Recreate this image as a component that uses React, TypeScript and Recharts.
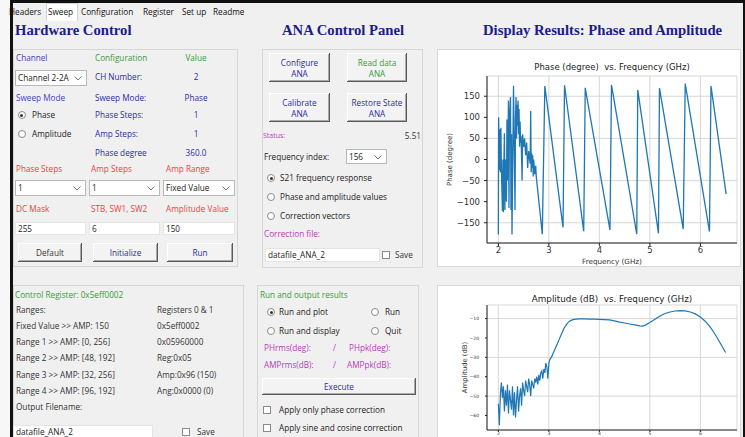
import React from 'react';
import { LineChart, Line, XAxis, YAxis, CartesianGrid } from 'recharts';

// phase sweep
const phaseFreq = [
  2.0, 2.005, 2.02, 2.03, 2.04, 2.05, 2.06, 2.08, 2.09, 2.1, 2.11, 2.12, 2.13, 2.14, 2.16, 2.17, 2.18,
  2.2, 2.21, 2.22, 2.24, 2.25, 2.26, 2.27, 2.3, 2.33, 2.34, 2.35, 2.36, 2.37, 2.38, 2.39, 2.4, 2.41,
  2.42, 2.43, 2.44, 2.45, 2.47, 2.48, 2.5, 2.52, 2.54, 2.56, 2.58, 2.6, 2.63, 2.64, 2.65, 2.66, 2.67,
  2.68, 2.69, 2.7, 2.72, 2.74, 2.75, 2.87, 2.92, 3.28, 3.31, 3.69, 3.72, 4.21, 4.24, 4.74, 4.76,
  5.17, 5.19, 5.66, 5.7, 6.18, 6.21, 6.51,
];
const phaseDeg = [
  -178, 100, -25, 72, -30, 75, -20, -122, 0, -125, -5, 62, -120, 0, -100, 95, -50,
  140, -115, 100, 148, -120, 60, -178, 175, -120, 100, 148, 50, 130, 80, 140, 60, 120,
  30, 90, 40, 55, -50, 60, 30, 50, 10, 40, -20, 20, -10, 115, -30, 15, -20,
  10, -40, 0, -35, -15, -40, -177, 174, -161, 176, -170, 170, -167, 177, -177, 165,
  -175, 169, -165, 180, -171, 174, -82,
];

// amplitude sweep
const ampFreq = [
  2.0, 2.02, 2.04, 2.06, 2.08, 2.1, 2.12, 2.14, 2.16, 2.18, 2.2, 2.22, 2.24, 2.26, 2.28, 2.3, 2.32,
  2.34, 2.36, 2.38, 2.4, 2.42, 2.44, 2.46, 2.48, 2.5, 2.52, 2.54, 2.56, 2.58, 2.6, 2.62, 2.64, 2.66,
  2.68, 2.7, 2.72, 2.74, 2.76, 2.78, 2.8, 2.82, 2.84, 2.86, 2.88, 2.9, 2.92, 2.94, 2.96, 2.98, 3.0,
  3.02, 3.05, 3.1, 3.15, 3.2, 3.25, 3.3, 3.35, 3.4, 3.45, 3.5, 3.6, 3.7, 3.8, 3.9, 4.0, 4.1, 4.2,
  4.3, 4.4, 4.5, 4.6, 4.7, 4.8, 4.85, 4.9, 5.0, 5.1, 5.2, 5.3, 5.4, 5.5, 5.6, 5.7, 5.8, 5.9, 6.0,
  6.1, 6.2, 6.3, 6.4, 6.5,
];
const ampDb = [
  -54, -65, -49, -43, -51, -45, -58, -47, -55, -44, -59, -47, -52, -57, -45, -60, -48,
  -61, -52, -45, -58, -50, -46, -55, -43, -47, -50, -42, -45, -48, -41, -44, -50, -42,
  -44, -46, -41, -43, -40, -44, -39, -42, -38, -37, -41, -36, -38, -33, -35, -41, -33,
  -31, -30, -27, -24, -21, -18, -15, -13, -11.5, -10.8, -10.4, -10.2, -10.2, -10.3, -10.3, -10.4, -10.5, -10.7,
  -11.2, -11.8, -12.3, -12.8, -13.3, -13.8, -13.9, -13.5, -12, -10.3, -8.7, -7.4, -6.6, -6.1, -5.9, -6, -6.6, -7.6, -9.2,
  -11.5, -14.6, -18.5, -23, -27.5,
];

const freqTicks = [2, 3, 4, 5, 6];
const phaseTicks = [-150, -100, -50, 0, 50, 100, 150];
const ampTicks = [-60, -50, -40, -30, -20, -10];

const phaseRows = phaseFreq.map((f, i) => ({ f, v: phaseDeg[i] }));
const ampRows = ampFreq.map((f, i) => ({ f, v: ampDb[i] }));

const UI = '"Open Sans", "Noto Sans", sans-serif';
const MPL = '"DejaVu Sans", sans-serif';
const SERIF = '"Liberation Serif", "DejaVu Serif", serif';
const BLUE = '#4343b8';
const NAVY = '#2c2ca0';
const GREEN = '#3a9a3a';
const RED = '#f23e3e';
const MAG = '#b83cb8';
const LINE = '#1f77b4';
const minus = (v: number) => String(v).replace('-', '\u2212');

type TP = { x: number; y: number; c?: string; w?: number; align?: 'left' | 'center' | 'right'; size?: number; children?: React.ReactNode };
function T({ x, y, c = '#333', w, align = 'left', size = 8.2, children }: TP) {
  return (
    <div style={{ position: 'absolute', left: x, top: y - 6, width: w, height: 12, lineHeight: '12px', fontSize: size, color: c, textAlign: align, whiteSpace: 'nowrap', fontFamily: UI }}>
      {children}
    </div>
  );
}

function Box({ x, y, w, h, bg }: { x: number; y: number; w: number; h: number; bg?: string }) {
  return <div style={{ position: 'absolute', left: x, top: y, width: w, height: h, border: '1px solid #d6d6d6', background: bg, boxSizing: 'border-box' }} />;
}

function Entry({ x, y, w, h, text }: { x: number; y: number; w: number; h: number; text: string }) {
  return (
    <div style={{ position: 'absolute', left: x, top: y, width: w, height: h, background: '#fff', border: '1px solid #e4e4e4', boxSizing: 'border-box', fontSize: 8.2, lineHeight: `${h - 2}px`, paddingLeft: 2, fontFamily: UI, color: '#222', whiteSpace: 'nowrap' }}>
      {text}
    </div>
  );
}

function Combo({ x, y, w, h, text }: { x: number; y: number; w: number; h: number; text: string }) {
  return (
    <div style={{ position: 'absolute', left: x, top: y, width: w, height: h, background: '#fff', border: '1px solid #b8b8b8', boxSizing: 'border-box', fontSize: 8.2, lineHeight: `${h - 2}px`, paddingLeft: 2, fontFamily: UI, color: '#222', whiteSpace: 'nowrap' }}>
      {text}
      <svg width={8} height={5} style={{ position: 'absolute', right: 4, top: (h - 2) / 2 - 2 }}>
        <polyline points="0.5,0.5 4,4 7.5,0.5" fill="none" stroke="#777" strokeWidth={1} />
      </svg>
    </div>
  );
}

function Btn({ x, y, w, h, c = '#333', lines }: { x: number; y: number; w: number; h: number; c?: string; lines: string[] }) {
  return (
    <div style={{
      position: 'absolute', left: x, top: y, width: w, height: h, background: '#f3f3f3', boxSizing: 'border-box',
      boxShadow: 'inset -1px -1px 0 #5a5a5a, inset 1px 1px 0 #fff, inset -2px -2px 0 #a8a8a8',
      display: 'flex', flexDirection: 'column', justifyContent: 'center', alignItems: 'center',
      fontSize: 8.2, lineHeight: '11px', color: c, fontFamily: UI,
    }}>
      {lines.map(l => <div key={l}>{l}</div>)}
    </div>
  );
}

function Radio({ x, y, on }: { x: number; y: number; on?: boolean }) {
  return (
    <div style={{ position: 'absolute', left: x - 4, top: y - 4, width: 8, height: 8, borderRadius: '50%', border: '1px solid #8a8a8a', background: '#fff', boxSizing: 'border-box' }}>
      {on && <div style={{ position: 'absolute', left: 1.5, top: 1.5, width: 3, height: 3, borderRadius: '50%', background: '#333' }} />}
    </div>
  );
}

function Check({ x, y }: { x: number; y: number }) {
  return <div style={{ position: 'absolute', left: x - 4, top: y - 4, width: 8, height: 8, border: '1px solid #8a8a8a', background: '#fff', boxSizing: 'border-box' }} />;
}

function PhaseChart() {
  return (
    <LineChart width={304} height={218} data={phaseRows} margin={{ top: 26, right: 5, left: 0, bottom: 0 }}>
      <CartesianGrid stroke="#d2d2d2" strokeWidth={0.9} />
      <XAxis dataKey="f" type="number" domain={[1.775, 6.725]} ticks={freqTicks} allowDataOverflow height={25}
        tick={{ fontSize: 8.5, fill: '#333', fontFamily: MPL }} tickSize={3} tickMargin={1} stroke="#222"
        label={{ value: 'Frequency (GHz)', position: 'insideBottom', offset: 4, fontSize: 7.2, fill: '#333', fontFamily: MPL }} />
      <YAxis type="number" domain={[-198, 198]} ticks={phaseTicks} allowDataOverflow width={49} tickFormatter={minus}
        tick={{ fontSize: 8.5, fill: '#333', fontFamily: MPL }} tickSize={3} tickMargin={4} stroke="#222"
        label={{ value: 'Phase (degree)', angle: -90, position: 'insideLeft', offset: 12, fontSize: 7, fill: '#333', fontFamily: MPL, style: { textAnchor: 'middle' } }} />
      <XAxis xAxisId="top" orientation="top" type="number" domain={[1.775, 6.725]} height={0} tick={false} tickLine={false} stroke="#222" />
      <YAxis yAxisId="right" orientation="right" type="number" domain={[-198, 198]} width={0} tick={false} tickLine={false} stroke="#222" />
      <Line type="linear" dataKey="v" stroke={LINE} strokeWidth={1.3} dot={false} isAnimationActive={false} />
    </LineChart>
  );
}

function AmpChart() {
  return (
    <LineChart width={304} height={170} data={ampRows} margin={{ top: 19, right: 5, left: 0, bottom: 0 }}>
      <CartesianGrid stroke="#d2d2d2" strokeWidth={0.9} />
      <XAxis dataKey="f" type="number" domain={[1.775, 6.725]} ticks={freqTicks} allowDataOverflow height={26}
        tick={{ fontSize: 4.5, fill: '#333', fontFamily: MPL }} tickSize={2} tickMargin={0} stroke="#222" />
      <YAxis type="number" domain={[-67.5, -3]} ticks={ampTicks} allowDataOverflow width={49} tickFormatter={minus}
        tick={{ fontSize: 4.5, fill: '#333', fontFamily: MPL }} tickSize={2} tickMargin={6} stroke="#222"
        label={{ value: 'Amplitude (dB)', angle: -90, position: 'insideLeft', offset: 27, fontSize: 6.8, fill: '#333', fontFamily: MPL, style: { textAnchor: 'middle' } }} />
      <XAxis xAxisId="top" orientation="top" type="number" domain={[1.775, 6.725]} height={0} tick={false} tickLine={false} stroke="#222" />
      <YAxis yAxisId="right" orientation="right" type="number" domain={[-67.5, -3]} width={0} tick={false} tickLine={false} stroke="#222" />
      <Line type="linear" dataKey="v" stroke={LINE} strokeWidth={1.2} dot={false} isAnimationActive={false} />
    </LineChart>
  );
}

export default function App() {
  const head = { position: 'absolute' as const, top: 22, fontFamily: SERIF, fontWeight: 700, fontSize: 14.7, color: '#1c1c8a', whiteSpace: 'nowrap' as const };
  return (
    <div style={{ position: 'absolute', left: 0, top: 0, width: 745, height: 437, overflow: 'hidden', background: '#f0f0f0', fontFamily: UI }}>
      <div style={{ position: 'absolute', left: 0, top: 0, width: 10, height: 437, background: '#f7f7f7' }} />

      {/* tab row */}
      <div style={{ position: 'absolute', left: 46, top: 3, width: 32, height: 18, background: '#fff', border: '1px solid #d4d4d4', borderBottom: 'none', boxSizing: 'border-box' }} />
      {[['Headers', 9], ['Sweep', 48], ['Configuration', 81], ['Register', 143], ['Set up', 182], ['Readme', 213]].map(([t, x]) => (
        <T key={t as string} x={x as number} y={12} c="#111">{t}</T>
      ))}
      <div style={{ position: 'absolute', left: 10, top: 0, width: 735, height: 2.5, background: '#111' }} />
      <div style={{ position: 'absolute', left: 10, top: 0, width: 2.5, height: 437, background: '#111' }} />
      <div style={{ position: 'absolute', left: 742.5, top: 0, width: 2.5, height: 437, background: '#111' }} />

      <div style={{ ...head, left: 15 }}>Hardware Control</div>
      <div style={{ ...head, left: 282 }}>ANA Control Panel</div>
      <div style={{ ...head, left: 483 }}>Display Results: Phase and Amplitude</div>

      {/* hardware control */}
      <Box x={13} y={49} w={225} h={218} />
      <T x={16} y={58} c={BLUE}>Channel</T>
      <T x={95} y={58} c={GREEN}>Configuration</T>
      <T x={182} y={58} w={28} align="center" c={GREEN}>Value</T>
      <Combo x={15} y={70} w={72} h={16} text="Channel 2-2A" />
      <T x={95} y={77} c={NAVY}>CH Number:</T>
      <T x={182} y={77} w={28} align="center" c={NAVY}>2</T>
      <T x={16} y={98} c={BLUE}>Sweep Mode</T>
      <T x={95} y={98} c={NAVY}>Sweep Mode:</T>
      <T x={182} y={98} w={28} align="center" c={NAVY}>Phase</T>
      <Radio x={21.5} y={115} on />
      <T x={32} y={115} c="#222">Phase</T>
      <T x={95} y={115} c={NAVY}>Phase Steps:</T>
      <T x={182} y={115} w={28} align="center" c={NAVY}>1</T>
      <Radio x={21.5} y={134} />
      <T x={32} y={134} c="#222">Amplitude</T>
      <T x={95} y={134} c={NAVY}>Amp Steps:</T>
      <T x={182} y={134} w={28} align="center" c={NAVY}>1</T>
      <T x={95} y={153} c={NAVY}>Phase degree</T>
      <T x={182} y={153} w={28} align="center" c={NAVY}>360.0</T>
      <T x={16} y={169} c={RED}>Phase Steps</T>
      <T x={91} y={169} c={RED}>Amp Steps</T>
      <T x={166} y={169} c={RED}>Amp Range</T>
      <Combo x={15} y={180} w={71} h={16} text="1" />
      <Combo x={89} y={180} w={71} h={16} text="1" />
      <Combo x={163} y={180} w={72} h={16} text="Fixed Value" />
      <T x={16} y={209} c={RED}>DC Mask</T>
      <T x={91} y={209} c={RED}>STB, SW1, SW2</T>
      <T x={166} y={209} c={RED}>Amplitude Value</T>
      <Entry x={15} y={222} w={71} h={13} text="255" />
      <Entry x={89} y={222} w={71} h={13} text="6" />
      <Entry x={163} y={222} w={72} h={13} text="150" />
      <Btn x={18} y={243} w={64} h={19} lines={['Default']} />
      <Btn x={93} y={243} w={65} h={19} c={NAVY} lines={['Initialize']} />
      <Btn x={167} y={243} w={66} h={19} c={NAVY} lines={['Run']} />

      {/* ANA control panel */}
      <Box x={262} y={49} w={161} h={219} />
      <Btn x={269} y={53} w={61} h={29} c={NAVY} lines={['Configure', 'ANA']} />
      <Btn x={347} y={53} w={60} h={29} c={GREEN} lines={['Read data', 'ANA']} />
      <Btn x={269} y={93} w={61} h={29} c={NAVY} lines={['Calibrate', 'ANA']} />
      <Btn x={347} y={93} w={60} h={29} c={NAVY} lines={['Restore State', 'ANA']} />
      <T x={263} y={136} c={MAG} size={7}>Status:</T>
      <T x={396} y={136} w={25} align="right" c="#333">5.51</T>
      <T x={264} y={157} c="#222">Frequency index:</T>
      <Combo x={346} y={149} w={41} h={15} text="156" />
      <Radio x={271} y={178} on />
      <T x={280} y={178} c="#222">S21 frequency response</T>
      <Radio x={271} y={197} />
      <T x={280} y={197} c="#222">Phase and amplitude values</T>
      <Radio x={271} y={216} />
      <T x={280} y={216} c="#222">Correction vectors</T>
      <T x={264} y={234} c={MAG}>Correction file:</T>
      <Entry x={265} y={248} w={115} h={14} text="datafile_ANA_2" />
      <Check x={386} y={255} />
      <T x={395} y={255} c="#333">Save</T>

      <Box x={257} y={285} w={162} h={160} />
      <T x={260} y={295} c={GREEN}>Run and output results</T>
      <Radio x={271} y={312} on />
      <T x={279} y={312} c="#222">Run and plot</T>
      <Radio x={375} y={312} />
      <T x={385} y={312} c="#222">Run</T>
      <Radio x={271} y={331} />
      <T x={279} y={331} c="#222">Run and display</T>
      <Radio x={375} y={331} />
      <T x={385} y={331} c="#222">Quit</T>
      <T x={264} y={348} c={MAG}>PHrms(deg):</T>
      <T x={333} y={348} c={MAG}>/</T>
      <T x={349} y={348} c={MAG}>PHpk(deg):</T>
      <T x={264} y={365} c={MAG}>AMPrms(dB):</T>
      <T x={333} y={365} c={MAG}>/</T>
      <T x={347} y={365} c={MAG}>AMPpk(dB):</T>
      <Btn x={262} y={378} w={154} h={17} c={NAVY} lines={['Execute']} />
      <Check x={267} y={410} />
      <T x={279} y={410} c="#222">Apply only phase correction</T>
      <Check x={267} y={428} />
      <T x={279} y={428} c="#222">Apply sine and cosine correction</T>

      {/* register panel */}
      <Box x={13} y={285} w={231} h={160} />
      <T x={15} y={295} c={GREEN}>Control Register: 0x5eff0002</T>
      {[
        ['Ranges:', 'Registers 0 & 1', 310],
        ['Fixed Value >> AMP: 150', '0x5eff0002', 326],
        ['Range 1 >> AMP: [0, 256]', '0x05960000', 342],
        ['Range 2 >> AMP: [48, 192]', 'Reg:0x05', 358],
        ['Range 3 >> AMP: [32, 256]', 'Amp:0x96 (150)', 375],
        ['Range 4 >> AMP: [96, 192]', 'Ang:0x0000 (0)', 391],
      ].map(([a, b, y]) => (
        <React.Fragment key={a as string}>
          <T x={16} y={y as number}>{a}</T>
          <T x={157} y={y as number}>{b}</T>
        </React.Fragment>
      ))}
      <T x={16} y={407}>Output Filename:</T>
      <Entry x={13} y={425} w={140} h={14} text="datafile_ANA_2" />
      <Check x={186} y={432} />
      <T x={197} y={432} c="#333">Save</T>

      {/* plots */}
      <div style={{ position: 'absolute', left: 437, top: 49, width: 304, height: 218, background: '#fff', border: '1px solid #d8d8d8', boxSizing: 'border-box' }}>
        <div style={{ position: 'absolute', left: 0, top: 0 }}><PhaseChart /></div>
        <div style={{ position: 'absolute', left: 49, width: 250, top: 12, textAlign: 'center', fontFamily: MPL, fontSize: 8.5, color: '#222', whiteSpace: 'pre' }}>
          Phase (degree)  vs. Frequency (GHz)
        </div>
      </div>
      <div style={{ position: 'absolute', left: 437, top: 285, width: 304, height: 170, background: '#fff', border: '1px solid #d8d8d8', boxSizing: 'border-box' }}>
        <div style={{ position: 'absolute', left: 0, top: 0 }}><AmpChart /></div>
        <div style={{ position: 'absolute', left: 49, width: 250, top: 8, textAlign: 'center', fontFamily: MPL, fontSize: 8.8, color: '#222', whiteSpace: 'pre' }}>
          Amplitude (dB)  vs. Frequency (GHz)
        </div>
      </div>
    </div>
  );
}
